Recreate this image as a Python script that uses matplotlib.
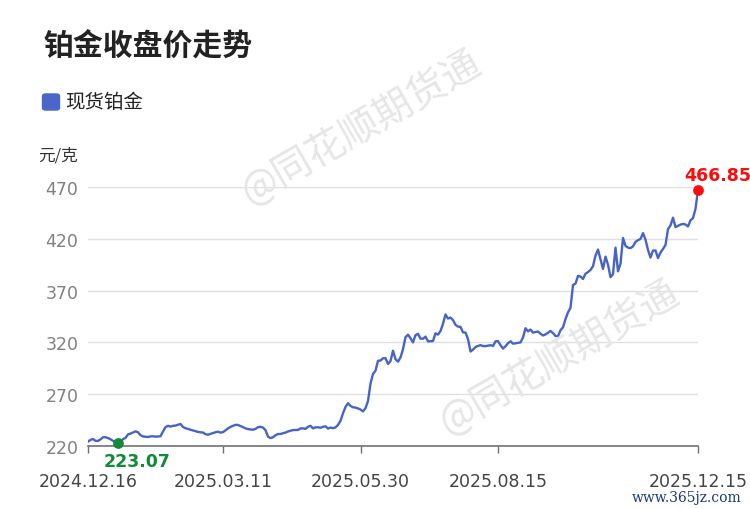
import matplotlib
matplotlib.use("Agg")
import matplotlib.pyplot as plt
from matplotlib.patches import FancyBboxPatch

plt.rcParams['font.family'] = ['DejaVu Sans', 'Noto Sans CJK SC']
CJK = ['Noto Sans CJK SC', 'DejaVu Sans']

title = "铂金收盘价走势"
series_name = "现货铂金"
unit = "元/克"
tick_idx = [0, 54, 109, 164, 244]
tick_labels = ["2024.12.16", "2025.03.11", "2025.05.30", "2025.08.15", "2025.12.15"]
y_ticks = [220, 270, 320, 370, 420, 470]

prices = [
    224.2, 225.9, 226.8, 225.0, 224.9, 226.4, 228.4, 228.5, 227.7, 226.5,
    225.0, 223.8, 223.07, 224.8, 226.6, 227.8, 231.2, 232.0, 233.0, 234.2,
    233.2, 230.5, 229.2, 229.0, 228.7, 229.3, 229.4, 229.0, 229.2, 229.4,
    234.0, 238.2, 239.5, 238.7, 239.5, 239.7, 240.5, 241.3, 238.3, 237.2,
    236.4, 235.7, 235.0, 234.2, 233.6, 233.2, 233.0, 231.4, 230.9, 231.7,
    232.5, 233.3, 233.8, 232.9, 233.4, 235.1, 237.0, 238.4, 239.5, 240.4,
    240.3, 239.3, 238.2, 237.0, 236.3, 236.0, 235.7, 236.5, 238.2, 238.5,
    237.8, 235.3, 229.0, 227.7, 228.4, 230.4, 231.6, 231.6, 232.3, 233.0,
    234.0, 234.7, 235.4, 235.5, 235.5, 237.0, 237.0, 236.5, 238.5, 239.5,
    237.0, 238.0, 238.1, 237.6, 238.5, 239.1, 236.8, 237.8, 237.2, 238.0,
    240.3, 244.3, 251.6, 257.7, 261.3, 258.7, 257.4, 257.0, 256.3, 255.2,
    253.4, 256.5, 263.4, 280.3, 289.6, 292.7, 302.3, 302.5, 304.7, 304.7,
    299.2, 302.0, 312.0, 303.8, 301.4, 305.5, 313.4, 325.0, 327.5, 324.0,
    320.0, 327.0, 328.3, 323.6, 323.5, 325.6, 321.0, 321.1, 321.3, 328.8,
    327.5, 331.0, 338.0, 347.0, 343.0, 344.0, 341.5, 337.0, 335.2, 335.0,
    329.7, 329.5, 323.2, 311.2, 313.0, 315.5, 316.6, 317.3, 316.5, 316.4,
    316.8, 317.3, 316.5, 321.0, 321.2, 317.3, 314.0, 316.3, 319.2, 321.1,
    318.8, 319.1, 319.6, 320.0, 324.7, 333.7, 330.7, 332.4, 329.5, 330.0,
    330.5, 328.4, 326.7, 327.7, 329.4, 331.0, 329.0, 326.2, 325.9, 331.8,
    334.5, 342.5, 349.0, 353.4, 375.5, 376.7, 384.2, 383.6, 381.2, 386.3,
    387.9, 389.9, 393.6, 403.8, 409.6, 400.1, 390.9, 402.8, 395.0, 383.0,
    385.8, 411.5, 388.6, 396.0, 420.8, 413.2, 411.5, 411.0, 412.7, 417.0,
    418.7, 419.8, 425.5, 419.2, 409.2, 401.9, 408.7, 408.7, 401.4, 406.8,
    410.2, 414.0, 429.4, 432.9, 440.4, 431.3, 432.5, 433.7, 434.4, 433.8,
    431.9, 437.8, 439.9, 449.0, 466.85,
]

W, H = 750, 510
fig = plt.figure(figsize=(W / 100, H / 100), dpi=100)
ax = fig.add_axes([88 / W, (H - 447) / H, (698 - 88) / W, (447 - 188) / H])

line_color = "#4563c9"
x = list(range(len(prices)))
ax.plot(x, prices, color=line_color, lw=1.7, zorder=3, solid_joinstyle='round')

ax.set_xlim(0, len(prices) - 1)
ax.set_ylim(220, 470)
ax.set_yticks(y_ticks)
ax.set_yticklabels([str(v) for v in y_ticks])
ax.set_xticks(tick_idx)
ax.set_xticklabels(tick_labels)
ax.grid(axis='y', color='#e0e0e0', lw=1)
ax.set_axisbelow(True)
for s in ['top', 'right', 'left']:
    ax.spines[s].set_visible(False)
ax.spines['bottom'].set_color('#6e7079')
ax.spines['bottom'].set_linewidth(1.2)
ax.tick_params(axis='y', length=0, pad=7, labelsize=12.5, labelcolor='#808080')
ax.tick_params(axis='x', length=5, width=1, color='#6e7079', pad=13.5, labelsize=12.5, labelcolor='#444444')

# min / max markers
imin = prices.index(min(prices))
imax = len(prices) - 1
ax.scatter([imin], [prices[imin]], s=45, color='#138a36', zorder=5, clip_on=False)
ax.annotate(f"{prices[imin]:.2f}", (imin, prices[imin]), xytext=(-10, -13), textcoords='offset points',
            ha='left', va='center', color='#138a36', fontsize=12.5, fontweight='bold', annotation_clip=False)
ax.scatter([imax], [prices[imax]], s=45, color='#ff0a0a', zorder=5, clip_on=False)
ax.annotate(f"{prices[imax]:.2f}", (imax, prices[imax]), xytext=(-10, 11), textcoords='offset points',
            ha='left', va='center', color='#ff0a0a', fontsize=12.5, fontweight='bold', annotation_clip=False)

# texts
fig.text(43 / W, 1 - 47 / H, title, family=CJK, fontsize=21.5, fontweight='bold', color='#222222', va='center', ha='left')
fig.patches.append(FancyBboxPatch((44 / W, 1 - 110 / H), 14 / W, 14 / H, boxstyle="round,pad=0.002,rounding_size=0.004",
                                  transform=fig.transFigure, color='#4a67c8', figure=fig))
fig.text(65 / W, 1 - 103 / H, series_name, family=CJK, fontsize=14, color='#222222', va='center', ha='left')
fig.text(38 / W, 1 - 156 / H, unit, family=CJK, fontsize=12, color='#333333', va='center', ha='left')

# watermarks
for cx, cy in [(362, 128), (560, 358)]:
    fig.text(cx / W, 1 - cy / H, "@同花顺期货通", family=CJK, fontsize=28, color='#e6e6e6',
             rotation=30, ha='center', va='center', rotation_mode='anchor', zorder=0)
fig.text(742 / W, 1 - 498 / H, "www.365jz.com", family=['DejaVu Serif'], fontsize=10,
         color='#1b3a7a', ha='right', va='center')

fig.savefig("out.png", dpi=100)
